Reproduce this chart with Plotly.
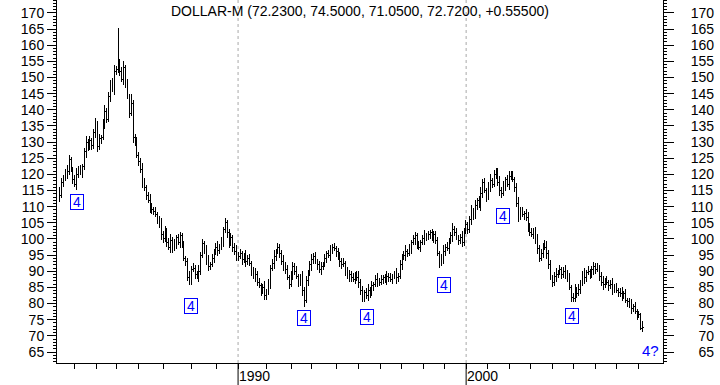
import plotly.graph_objects as go

# Monthly OHLC bars of DOLLAR-M, mid-1982 .. early 2008 (bar index = month number)
bar_open = [
    112.5,113.5,117.5,119.0,120.5,121.0,124.5,121.5,118.5,117.0,
    120.0,121.5,120.5,122.5,127.0,130.0,128.5,130.5,129.0,133.0,
    135.5,128.5,131.0,131.5,136.0,139.5,137.0,144.0,148.5,146.5,
    152.0,152.5,155.0,152.0,149.5,153.0,148.0,144.0,139.0,142.0,
    131.5,130.0,126.0,124.0,121.5,117.5,116.0,113.5,112.0,110.0,
    109.0,108.5,107.5,106.0,104.5,101.5,100.0,102.5,99.0,97.5,
    99.5,97.0,98.5,100.5,99.0,101.0,98.0,94.0,93.0,88.0,
    87.0,90.5,91.0,89.0,88.5,90.0,95.0,98.5,97.0,93.0,
    91.5,92.0,94.0,96.0,97.5,96.5,97.5,99.0,103.0,105.0,
    102.0,98.5,100.5,97.5,96.0,95.0,94.5,95.5,93.5,94.5,
    93.0,94.0,92.5,90.0,88.5,89.0,86.5,85.5,84.0,85.0,
    82.5,83.5,86.0,91.0,92.5,94.5,96.0,97.5,95.5,93.0,
    92.0,90.5,88.0,86.0,89.0,91.5,90.0,88.5,86.5,88.0,
    84.0,81.0,87.0,89.5,92.0,93.5,94.5,93.0,92.0,90.5,
    91.5,92.0,94.0,95.5,95.0,96.5,97.5,97.0,96.0,94.5,
    93.0,92.0,92.5,90.0,88.5,89.0,88.0,87.5,89.0,88.0,
    86.5,84.0,82.0,83.5,82.5,84.0,83.0,85.5,86.0,87.5,
    87.0,86.5,87.5,88.0,87.5,88.5,88.0,87.5,88.5,89.0,
    88.0,88.5,92.0,94.5,95.0,96.0,95.5,97.0,99.0,100.0,
    101.0,98.0,97.5,99.0,100.0,101.0,100.5,101.5,102.0,100.5,
    101.5,99.5,95.5,92.5,94.0,96.0,97.5,97.0,99.5,101.0,
    103.0,102.0,100.5,99.5,100.5,99.0,102.5,104.5,103.0,106.0,
    108.5,107.0,110.5,112.0,110.5,114.0,117.5,115.0,113.0,116.5,
    118.0,117.0,120.0,121.0,117.5,115.0,114.0,116.5,118.5,117.0,
    119.5,120.0,118.5,116.0,111.0,107.0,108.5,107.5,108.0,106.5,
    104.0,102.0,101.5,102.5,99.5,97.0,94.0,95.5,98.0,97.5,
    95.5,92.0,88.0,86.5,88.5,89.0,89.5,90.5,89.0,90.0,
    89.5,88.0,85.0,82.0,81.5,84.0,83.0,84.5,86.5,89.0,
    88.0,89.5,90.0,89.0,90.5,91.5,90.5,91.0,88.5,86.5,
    86.0,87.0,86.5,85.5,86.0,84.5,85.0,84.0,83.5,83.0,
    82.5,83.0,81.0,80.5,79.5,78.5,79.0,77.5,76.5,76.5,72.23,
]
bar_high = [
    116.0,119.0,119.8,121.7,123.0,126.0,125.3,122.3,119.7,122.0,
    122.5,123.0,123.3,128.2,132.0,131.0,132.0,131.3,134.2,137.5,
    136.5,132.5,132.3,137.2,141.5,140.5,145.5,149.3,149.7,154.0,
    153.5,165.4,155.8,153.2,155.0,154.0,149.5,144.8,145.0,143.0,
    132.5,131.5,126.8,125.2,123.5,119.0,116.8,114.7,114.0,111.0,
    110.0,110.0,108.3,107.2,106.5,102.5,104.0,103.3,100.2,101.5,
    100.5,100.0,101.3,101.7,102.3,102.0,99.5,94.8,94.2,90.0,
    91.5,92.5,91.8,90.2,92.0,96.0,100.0,99.3,98.2,95.0,
    93.0,95.5,96.8,98.7,99.5,98.5,100.5,103.8,106.5,105.8,
    103.0,102.0,101.3,98.7,98.0,96.0,97.0,96.3,95.7,96.5,
    95.0,95.5,93.3,91.2,91.0,90.0,88.0,86.3,86.2,87.0,
    84.5,87.5,91.8,93.7,96.5,97.0,98.8,98.3,96.7,95.0,
    93.0,92.0,88.8,90.2,93.0,92.5,91.5,89.3,89.2,90.0,
    85.0,88.5,90.3,93.2,95.5,95.7,96.0,93.8,93.2,93.0,
    93.0,95.5,96.3,96.7,98.0,98.5,98.8,97.8,97.2,96.0,
    94.0,94.0,93.3,91.2,90.5,90.0,89.5,89.8,90.2,90.0,
    87.5,85.5,84.3,84.7,86.0,85.0,87.0,86.8,88.7,89.5,
    88.0,89.0,88.8,89.2,90.0,89.5,89.5,89.3,90.2,91.0,
    89.5,93.5,95.3,96.2,98.0,97.0,98.5,99.8,101.2,102.2,
    102.0,99.5,99.8,101.2,102.8,102.0,102.5,102.8,103.0,102.5,
    102.5,100.5,96.3,95.2,98.0,98.5,99.0,100.3,102.2,105.0,
    104.0,103.5,101.3,101.7,102.5,103.5,106.0,105.3,107.2,110.5,
    109.5,112.0,112.8,113.2,116.0,118.5,119.0,115.8,117.7,120.0,
    119.0,121.5,122.0,122.0,119.5,116.0,118.0,119.3,119.7,121.0,
    121.0,121.0,119.3,117.2,113.0,110.0,110.0,108.8,109.2,108.5,
    105.0,103.5,103.3,103.7,101.5,98.0,97.0,98.8,99.7,99.5,
    96.5,93.5,88.8,89.7,91.0,90.5,92.0,91.3,91.2,92.0,
    90.5,89.5,85.8,83.2,86.0,85.0,86.0,87.3,90.2,91.0,
    90.5,91.5,90.8,91.7,92.8,92.5,92.5,91.8,89.7,88.5,
    88.0,88.5,87.3,87.2,88.0,86.0,86.5,84.8,84.7,85.0,
    84.0,84.5,81.8,81.7,81.5,80.0,80.5,78.3,77.7,77.0,74.5,
]
bar_low = [
    111.5,112.7,116.0,118.0,118.7,119.8,120.7,117.0,116.0,115.2,
    118.8,119.7,119.0,121.5,125.2,127.3,127.7,127.5,128.0,131.2,
    127.0,127.7,129.5,130.5,134.2,135.8,136.2,142.5,145.5,144.7,
    150.8,151.5,150.5,148.5,147.7,146.8,143.2,137.5,138.0,129.7,
    128.8,125.2,122.5,120.5,115.7,114.8,112.0,111.0,108.2,107.8,
    107.3,106.7,104.5,103.5,99.7,98.8,99.2,97.5,96.5,95.7,
    95.8,96.2,97.0,98.0,97.2,97.2,93.2,91.5,87.0,85.8,
    85.8,89.7,87.5,87.5,86.7,88.8,94.2,95.5,92.0,90.0,
    90.3,91.2,92.5,95.0,94.7,95.3,96.7,97.5,102.0,100.2,
    97.3,97.7,96.0,95.0,93.2,93.3,93.7,92.0,92.5,91.2,
    91.8,91.7,88.5,87.5,86.7,85.3,84.7,82.5,83.0,81.2,
    81.0,82.7,84.5,90.0,90.7,93.3,95.2,94.0,92.0,90.2,
    89.3,87.2,84.5,85.0,87.2,88.8,87.7,85.0,85.5,82.2,
    79.0,80.2,85.5,88.5,90.2,92.3,92.2,90.5,89.5,88.7,
    90.3,91.2,92.5,94.0,93.2,95.3,96.2,94.5,93.5,91.2,
    90.8,91.2,88.5,87.5,86.7,86.8,86.7,86.0,87.0,84.7,
    82.8,80.5,80.5,81.5,80.7,81.8,82.2,84.0,85.0,85.2,
    85.3,85.7,86.0,86.5,85.7,86.8,86.7,86.0,87.5,86.2,
    86.8,87.7,90.5,93.5,93.2,94.3,94.7,95.5,98.0,98.2,
    96.8,96.7,96.0,98.0,98.2,99.3,99.7,100.0,99.5,98.7,
    98.3,94.7,91.0,91.5,92.2,94.8,96.2,95.5,98.5,99.2,
    100.8,99.7,98.0,98.5,97.5,97.8,101.7,101.5,102.0,104.2,
    105.8,106.2,109.0,109.5,108.7,112.8,114.2,111.5,112.0,114.7,
    115.8,116.2,118.5,116.5,113.2,112.8,113.2,115.0,116.0,115.2,
    118.3,117.7,114.5,110.0,105.2,105.8,106.7,106.0,105.5,102.2,
    100.8,100.7,100.0,98.5,95.2,92.8,93.2,94.0,96.5,93.7,
    90.8,87.2,85.0,85.5,86.7,87.8,88.7,87.5,88.0,87.7,
    86.8,84.2,80.5,80.5,80.6,81.8,82.2,83.0,85.5,86.2,
    86.8,88.7,87.5,88.0,88.7,89.3,89.7,87.0,85.5,84.2,
    84.8,85.7,84.0,84.5,82.7,83.3,83.2,82.0,82.0,80.7,
    81.3,80.2,79.0,78.5,76.7,77.3,76.7,75.0,75.5,71.8,71.05,
]
bar_close = [
    113.5,117.5,119.0,120.5,121.0,124.5,121.5,118.5,117.0,120.0,
    121.5,120.5,122.5,127.0,130.0,128.5,130.5,129.0,133.0,135.5,
    128.5,131.0,131.5,136.0,139.5,137.0,144.0,148.5,146.5,152.0,
    152.5,155.0,152.0,149.5,153.0,148.0,144.0,139.0,142.0,131.5,
    130.0,126.0,124.0,121.5,117.5,116.0,113.5,112.0,110.0,109.0,
    108.5,107.5,106.0,104.5,101.5,100.0,102.5,99.0,97.5,99.5,
    97.0,98.5,100.5,99.0,101.0,98.0,94.0,93.0,88.0,87.0,
    90.5,91.0,89.0,88.5,90.0,95.0,98.5,97.0,93.0,91.5,
    92.0,94.0,96.0,97.5,96.5,97.5,99.0,103.0,105.0,102.0,
    98.5,100.5,97.5,96.0,95.0,94.5,95.5,93.5,94.5,93.0,
    94.0,92.5,90.0,88.5,89.0,86.5,85.5,84.0,85.0,82.5,
    83.5,86.0,91.0,92.5,94.5,96.0,97.5,95.5,93.0,92.0,
    90.5,88.0,86.0,89.0,91.5,90.0,88.5,86.5,88.0,84.0,
    81.0,87.0,89.5,92.0,93.5,94.5,93.0,92.0,90.5,91.5,
    92.0,94.0,95.5,95.0,96.5,97.5,97.0,96.0,94.5,93.0,
    92.0,92.5,90.0,88.5,89.0,88.0,87.5,89.0,88.0,86.5,
    84.0,82.0,83.5,82.5,84.0,83.0,85.5,86.0,87.5,87.0,
    86.5,87.5,88.0,87.5,88.5,88.0,87.5,88.5,89.0,88.0,
    88.5,92.0,94.5,95.0,96.0,95.5,97.0,99.0,100.0,101.0,
    98.0,97.5,99.0,100.0,101.0,100.5,101.5,102.0,100.5,101.5,
    99.5,95.5,92.5,94.0,96.0,97.5,97.0,99.5,101.0,103.0,
    102.0,100.5,99.5,100.5,99.0,102.5,104.5,103.0,106.0,108.5,
    107.0,110.5,112.0,110.5,114.0,117.5,115.0,113.0,116.5,118.0,
    117.0,120.0,121.0,117.5,115.0,114.0,116.5,118.5,117.0,119.5,
    120.0,118.5,116.0,111.0,107.0,108.5,107.5,108.0,106.5,104.0,
    102.0,101.5,102.5,99.5,97.0,94.0,95.5,98.0,97.5,95.5,
    92.0,88.0,86.5,88.5,89.0,89.5,90.5,89.0,90.0,89.5,
    88.0,85.0,82.0,81.5,84.0,83.0,84.5,86.5,89.0,88.0,
    89.5,90.0,89.0,90.5,91.5,90.5,91.0,88.5,86.5,86.0,
    87.0,86.5,85.5,86.0,84.5,85.0,84.0,83.5,83.0,82.5,
    83.0,81.0,80.5,79.5,78.5,79.0,77.5,76.5,76.5,72.17,72.72,
]
bar_index = list(range(len(bar_close)))

# Year boundaries on the bar axis (first tick = 1983)
year_names = ["1983", "1984", "1985", "1986", "1987", "1988", "1989", "1990",
              "1991", "1992", "1993", "1994", "1995", "1996", "1997", "1998",
              "1999", "2000", "2001", "2002", "2003", "2004", "2005", "2006",
              "2007", "2008"]
year_start_bar = [7.55, 19.26, 30.4, 42.1, 55.4, 69.8, 83.1, 94.8,
                  109.7, 123.0, 134.1, 146.9, 159.1, 170.3, 181.5, 193.2,
                  204.4, 216.1, 227.2, 238.9, 250.1, 261.8, 273.0, 284.7,
                  295.9, 307.6]
labelled_years = ["1990", "2000"]

# Wave-count labels
wave_text = ["4", "4", "4", "4", "4", "4", "4", "4?"]
wave_bar = [9.1, 69.8, 129.9, 163.4, 204.4, 235.7, 272.6, 313.9]
wave_level = [111.5, 79.25, 75.5, 75.8, 85.8, 107.1, 76.2, 65.6]

price_ticks = list(range(65, 175, 5))

title_text = "DOLLAR-M (72.2300, 74.5000, 71.0500, 72.7200, +0.55500)"

FONT = "Liberation Sans, Arial, Helvetica, sans-serif"
BLUE = "#0000ff"

fig = go.Figure()
fig.add_trace(go.Ohlc(
    x=bar_index, open=bar_open, high=bar_high, low=bar_low, close=bar_close,
    increasing=dict(line=dict(color="black", width=1)),
    decreasing=dict(line=dict(color="black", width=1)),
    tickwidth=0.45, hoverinfo="skip", showlegend=False,
))
# invisible helper to activate the right-hand axis
fig.add_trace(go.Scatter(x=[bar_index[0]], y=[bar_close[0]], yaxis="y2",
                         mode="markers", marker=dict(opacity=0),
                         hoverinfo="skip", showlegend=False))

yr = [61.6, 174.0]
minor = dict(tickmode="linear", tick0=0, dtick=1, ticks="outside",
             ticklen=3, tickcolor="black", tickwidth=1)

fig.update_layout(
    width=720, height=385,
    margin=dict(l=57, r=57, t=0, b=22, autoexpand=False),
    paper_bgcolor="white", plot_bgcolor="white",
    font=dict(family=FONT, size=14, color="black"),
    showlegend=False,
    xaxis=dict(
        range=[-1.5, 320.8], showgrid=False, zeroline=False,
        showline=True, linecolor="black", linewidth=1,
        tickmode="array", tickvals=year_start_bar,
        ticktext=["" for _ in year_start_bar],
        ticks="outside", ticklen=5, tickcolor="black", tickwidth=1,
        rangeslider=dict(visible=False), fixedrange=True, automargin=False,
    ),
    yaxis=dict(
        range=yr, side="left", showgrid=False, zeroline=False,
        showline=True, linecolor="black", linewidth=1,
        tickmode="array", tickvals=price_ticks,
        ticktext=[str(v) for v in price_ticks],
        ticks="outside", ticklen=9, tickcolor="black", tickwidth=1,
        minor=minor, tickfont=dict(family=FONT, size=14, color="black"),
        automargin=False, fixedrange=True,
    ),
    yaxis2=dict(
        range=yr, overlaying="y", side="right", showgrid=False, zeroline=False,
        showline=True, linecolor="black", linewidth=1,
        tickmode="array", tickvals=price_ticks,
        ticktext=[("\u00a0\u00a0" + str(v)) if v < 100 else str(v) for v in price_ticks],
        ticks="outside", ticklen=10, tickcolor="black", tickwidth=1,
        ticklabelstandoff=14,
        minor=minor, tickfont=dict(family=FONT, size=14, color="black"),
        automargin=False, fixedrange=True,
    ),
)

shapes = []
annotations = []
for name, pos in zip(year_names, year_start_bar):
    if name in labelled_years:
        shapes.append(dict(type="line", xref="x", yref="paper", x0=pos, x1=pos,
                           y0=0, y1=1, line=dict(color="#a8a8a8", width=1, dash="3px,3px"),
                           layer="below"))
        shapes.append(dict(type="line", xref="x", yref="paper", x0=pos, x1=pos,
                           y0=0, y1=-22 / 363, line=dict(color="black", width=1)))
        annotations.append(dict(x=pos, y=0, xref="x", yref="paper", text=name,
                                showarrow=False, xanchor="left", yanchor="top",
                                xshift=-1, yshift=-3,
                                font=dict(family=FONT, size=14, color="black")))

for t, bx, lv in zip(wave_text, wave_bar, wave_level):
    boxed = (t == "4")
    ann = dict(
        x=bx, y=lv, xref="x", yref="y", text=t, showarrow=False,
        font=dict(family=FONT, size=14 if boxed else 15, color=BLUE),
        xanchor="center", yanchor="middle",
    )
    if boxed:
        ann.update(bordercolor=BLUE, borderwidth=1, borderpad=1, bgcolor="white",
                   width=10, height=12)
    annotations.append(ann)

annotations.append(dict(x=0.5, y=1, xref="paper", yref="paper", text=title_text,
                        showarrow=False, xanchor="center", yanchor="top", yshift=-1,
                        font=dict(family=FONT, size=14, color="black")))

fig.update_layout(shapes=shapes, annotations=annotations)

crisp = ("document.body.style.margin='0';document.body.style.overflow='hidden';"
         "document.querySelectorAll('.ohlc path').forEach(function(p){"
         "p.style.shapeRendering='crispEdges';});")
fig.write_html("out.html", config={"displayModeBar": False, "staticPlot": True},
               post_script=crisp)
